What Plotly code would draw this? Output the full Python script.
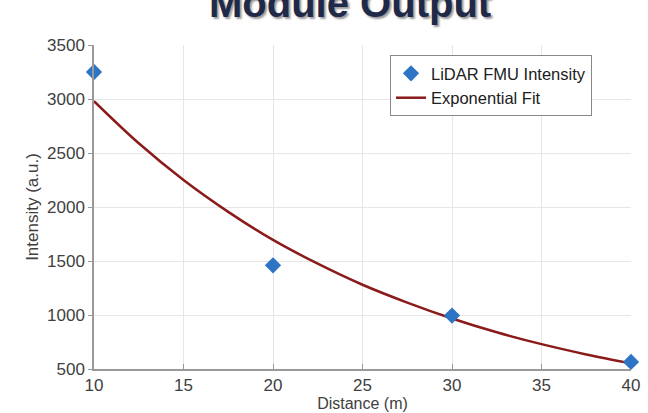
import plotly.graph_objects as go

# Measured data
distance = [10, 20, 30, 40]
intensity = [3250, 1460, 995, 565]

# Fitted curve values
fit_distance = [10, 12.5, 15, 17.5, 20, 22.5, 25, 27.5, 30, 32.5, 35, 37.5, 40]
fit_intensity = [2980, 2590, 2250, 1955, 1695, 1475, 1280, 1115, 968, 840, 730, 635, 552]

x_ticks = [10, 15, 20, 25, 30, 35, 40]
y_ticks = [500, 1000, 1500, 2000, 2500, 3000, 3500]

title_text = "Module Output"

fig = go.Figure()
fig.add_trace(go.Scatter(
    x=fit_distance, y=fit_intensity, mode="lines", name="Exponential Fit",
    line=dict(color="#8B1A1A", width=2.5, shape="spline"), showlegend=True,
    legendrank=2,
))
fig.add_trace(go.Scatter(
    x=distance, y=intensity, mode="markers", name="LiDAR FMU Intensity",
    marker=dict(symbol="diamond", size=12.5, color="#2E74C4"),
    cliponaxis=False, legendrank=1,
))

tick_font = dict(family="Liberation Sans, Arial, sans-serif", size=17, color="#404040")

fig.update_layout(
    width=648, height=413,
    margin=dict(l=94, r=17, t=45, b=44),
    paper_bgcolor="white", plot_bgcolor="white",
    font=dict(family="Liberation Sans, Arial, sans-serif", color="#404040"),
    xaxis=dict(
        range=[10, 40], tickvals=x_ticks, ticks="inside", ticklen=5,
        tickcolor="#999999", showline=True, linecolor="#999999", linewidth=1.5,
        showgrid=True, gridcolor="#e6e6e6", gridwidth=1, zeroline=False,
        tickfont=tick_font, automargin=False,
        title=dict(text="Distance (m)", font=dict(size=16, color="#404040"), standoff=0),
    ),
    yaxis=dict(
        range=[500, 3500], tickvals=y_ticks, ticks="outside", ticklen=4,
        tickcolor="#999999", showline=True, linecolor="#999999", linewidth=1.5,
        showgrid=True, gridcolor="#e6e6e6", gridwidth=1, zeroline=False,
        tickfont=tick_font, automargin=False,
        title=dict(text="Intensity (a.u.)", font=dict(size=17, color="#404040"), standoff=4),
    ),
    legend=dict(
        x=(390 - 94) / 537, y=0.969, xanchor="left", yanchor="top",
        bgcolor="white", bordercolor="#888888", borderwidth=1,
        font=dict(size=16.5, color="#202020"), tracegroupgap=0,
        itemwidth=30,
    ),
    showlegend=True,
)

fig.add_annotation(
    text="<b>" + title_text + "</b>", xref="paper", yref="paper",
    x=0.477, y=1.13, xanchor="center", yanchor="middle", showarrow=False,
    font=dict(family="Liberation Sans, Arial, sans-serif", size=40, color="#1F2A4A",
              shadow="2px 2px 2px #9a9a9a"),
)

fig.write_html("out.html")
